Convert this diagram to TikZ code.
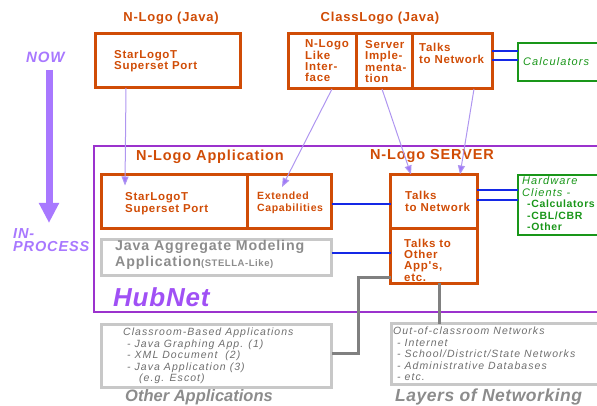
\documentclass[tikz,border=0pt]{standalone}
\usepackage{fontspec}
\setmainfont{Liberation Sans}
\newfontfamily\fa[LetterSpace=6]{Liberation Sans}
\newfontfamily\fb[LetterSpace=10]{Liberation Sans}
\newfontfamily\fc[LetterSpace=3]{Liberation Sans}
\usetikzlibrary{fit,arrows.meta}
\newcommand{\fsz}[2]{\fontsize{#1}{#2}\selectfont}
\definecolor{org}{RGB}{208,76,6}
\definecolor{hubp}{RGB}{155,50,205}
\definecolor{hubt}{RGB}{160,80,245}
\definecolor{nowc}{RGB}{168,120,255}
\definecolor{lav}{RGB}{175,150,240}
\definecolor{lavh}{RGB}{160,120,250}
\definecolor{grn}{RGB}{25,150,25}
\definecolor{blu}{RGB}{20,40,230}
\definecolor{lgry}{RGB}{200,200,200}
\definecolor{dgry}{RGB}{128,128,128}
\definecolor{tgry}{RGB}{140,140,140}
\definecolor{igry}{RGB}{110,110,110}
\begin{document}
\begin{tikzpicture}[x=1pt,y=-1pt,
  bx/.style={inner sep=0pt,outer sep=0pt},
  obox/.style={bx,draw=org,line width=3pt},
  gbox/.style={bx,draw=lgry,line width=3pt},
  grbox/.style={bx,draw=grn,line width=2pt},
  pbox/.style={bx,draw=hubp,line width=2.2pt},
  ttl/.style={text=org,font=\fa\bfseries\fsz{13}{13},inner sep=0pt},
  ttlb/.style={text=org,font=\fa\bfseries\fsz{14.5}{14.5},inner sep=0pt},
  btxt/.style={text=org,font=\fa\bfseries\fsz{11.5}{11.4},align=left,anchor=west,inner sep=0pt},
  stxt/.style={text=org,font=\fa\bfseries\fsz{10.5}{12},align=left,anchor=west,inner sep=0pt},
  gtxt/.style={text=igry,font=\fb\itshape\fsz{10.5}{11.5},align=left,anchor=west,inner sep=0pt},
  grtxt/.style={text=grn,align=left,anchor=west,inner sep=0pt},
  blink/.style={draw=blu,line width=2pt},
  glink/.style={draw=dgry,line width=3pt},
  plink/.style={draw=lav,line width=1pt,-{Triangle[length=9pt,width=7pt,fill=lavh]}},
]
\useasboundingbox (0,0) rectangle (597,406);
\clip (0,0) rectangle (597,406);

% boxes
\node[pbox,fit={(94,146) (605,312)}] (hub) {};
\node[obox,fit={(95.5,33.5) (240,88)}] (nlogo) {};
\node[obox,fit={(288.5,33.5) (356,89)}] (cl1) {};
\node[obox,fit={(356,33.5) (412,89)}] (cl2) {};
\node[obox,fit={(412,33.5) (492,89)}] (cl3) {};
\node[grbox,fit={(518,43.5) (610,81.5)}] (calc) {};
\node[obox,fit={(101.5,174.5) (247,229)}] (app1) {};
\node[obox,fit={(247,174.5) (331.5,229)}] (app2) {};
\node[gbox,fit={(101.5,239.5) (331.5,275)}] (jam) {};
\node[obox,fit={(390.5,174.5) (477,229)}] (srv1) {};
\node[obox,fit={(390.5,229) (477,283)}] (srv2) {};
\node[grbox,fit={(518,175) (610,235)}] (hw) {};
\node[gbox,fit={(101.5,324.5) (331.5,387)}] (class) {};
\node[gbox,fit={(391.5,323.5) (610,384)}] (layers) {};

% titles
\node[ttl] (t1) at (171,18) {N-Logo (Java)};
\node[ttl] (t2) at (380,18) {ClassLogo (Java)};
\node[ttlb] (t3) at (210,157) {N-Logo Application};
\node[ttlb] (t4) at (432,156) {N-Logo SERVER};

% box texts
\node[btxt,font=\fa\bfseries\fsz{11.5}{11}] (x1) at (114,61.5) {StarLogoT\\Superset Port};
\node[btxt] (x2) at (305,61) {N-Logo\\Like\\Inter-\\face};
\node[btxt,font=\fa\bfseries\fsz{11.5}{11.6}] (x3) at (365,61.5) {Server\\Imple-\\menta-\\tion};
\node[btxt,font=\fa\bfseries\fsz{11.5}{12}] (x4) at (419,53) {Talks\\to Network};
\node[grtxt,font=\fb\itshape\fsz{11}{11}] (x5) at (523,62) {Calculators};
\node[btxt,font=\fa\bfseries\fsz{11.5}{12}] (x6) at (125,204) {StarLogoT\\Superset Port};
\node[stxt] (x7) at (257,203) {Extended\\Capabilities};
\node[btxt,font=\fa\bfseries\fsz{11.5}{12}] (x8) at (405,201) {Talks\\to Network};
\node[btxt] (x9) at (404,260) {Talks to\\Other\\App's,\\etc.};
\node[anchor=west,inner sep=0pt,align=left,text=tgry,font=\fa\bfseries\fsz{14.2}{16}] (x10) at (115,255)
  {Java Aggregate Modeling\\Application{\fsz{9.5}{9.5}(STELLA-Like)}};
\node[anchor=west,inner sep=0pt,text=hubt,font=\fc\bfseries\itshape\fsz{26}{26}] (x11) at (113,297) {HubNet};
\node[grtxt,font=\fb\fsz{11}{11.5}] (x12) at (522,204)
  {{\itshape Hardware}\\{\itshape Clients -}\\\hspace*{5pt}{\fa\bfseries\fsz{10.5}{11.5}-Calculators}\\\hspace*{5pt}{\fa\bfseries\fsz{10.5}{11.5}-CBL/CBR}\\\hspace*{5pt}{\fa\bfseries\fsz{10.5}{11.5}-Other}};
\node[anchor=west,inner sep=0pt,text=nowc,font=\fa\bfseries\itshape\fsz{15}{15}] (now) at (26,57) {NOW};
\node[anchor=west,inner sep=0pt,align=left,text=nowc,font=\fa\bfseries\itshape\fsz{14.5}{13}] (inp) at (13,240.5) {IN-\\PROCESS};
\node[gtxt] (x13) at (123,356)
  {Classroom-Based Applications\\\hspace*{4pt}- Java Graphing App. (1)\\\hspace*{4pt}- XML Document\ \ (2)\\\hspace*{4pt}- Java Application (3)\\\hspace*{16pt}(e.g. Escot)};
\node[gtxt] (x14) at (393,354)
  {Out-of-classroom Networks\\\hspace*{4pt}- Internet\\\hspace*{4pt}- School/District/State Networks\\\hspace*{4pt}- Administrative Databases\\\hspace*{4pt}- etc.};
\node[anchor=base west,inner sep=0pt,text=tgry,font=\bfseries\itshape\fsz{16.5}{16.5}] (x15) at (125,401.5) {Other Applications};
\node[anchor=base west,inner sep=0pt,text=tgry,font=\fc\bfseries\itshape\fsz{17.5}{17.5}] (x16) at (395,401.5) {Layers of Networking};

% big arrow
\coordinate (a1) at (49,70);
\coordinate (a2) at (49,223);
\draw[draw=nowc,line width=7pt,-{Triangle[length=20pt,width=19pt,fill=nowc]}] (a1) -- (a2);

% blue links
\coordinate (b1) at ([yshift=10.5pt]cl3.east);
\coordinate (b2) at ([yshift=1.2pt]cl3.east);
\draw[blink] (b1) -- (b1 -| calc.west);
\draw[blink] (b2) -- (b2 -| calc.west);
\coordinate (b3) at ([yshift=-2.3pt]app2.east);
\draw[blink] (b3) -- (b3 -| srv1.west);
\coordinate (b4) at ([yshift=4pt]jam.east);
\draw[blink] (b4) -- (b4 -| srv2.west);
\coordinate (b5) at ([yshift=11.7pt]srv1.east);
\coordinate (b6) at ([yshift=1.7pt]srv1.east);
\draw[blink] (b5) -- (b5 -| hw.west);
\draw[blink] (b6) -- (b6 -| hw.west);

% grey links
\coordinate (g1) at ([yshift=-21pt]srv2.west);
\coordinate (g2) at ([yshift=2.75pt]class.east);
\draw[glink] (g1) -| ([xshift=26.5pt]g2) -- (g2);
\coordinate (g3) at ([xshift=6pt]srv2.south);
\draw[glink] (g3) -- (g3 |- layers.north);

% purple links
\draw[plink] ([xshift=30.5pt]nlogo.south west) -- ([xshift=23.5pt,yshift=-11pt]app1.north west);
\draw[plink] ([xshift=43.5pt]cl1.south west) -- ([xshift=35pt,yshift=-12.5pt]app2.north west);
\draw[plink] ([xshift=26pt]cl2.south west) -- ([xshift=20.5pt]srv1.north west);
\draw[plink] ([xshift=62pt]cl3.south west) -- ([xshift=69.5pt]srv1.north west);
\end{tikzpicture}
\end{document}
